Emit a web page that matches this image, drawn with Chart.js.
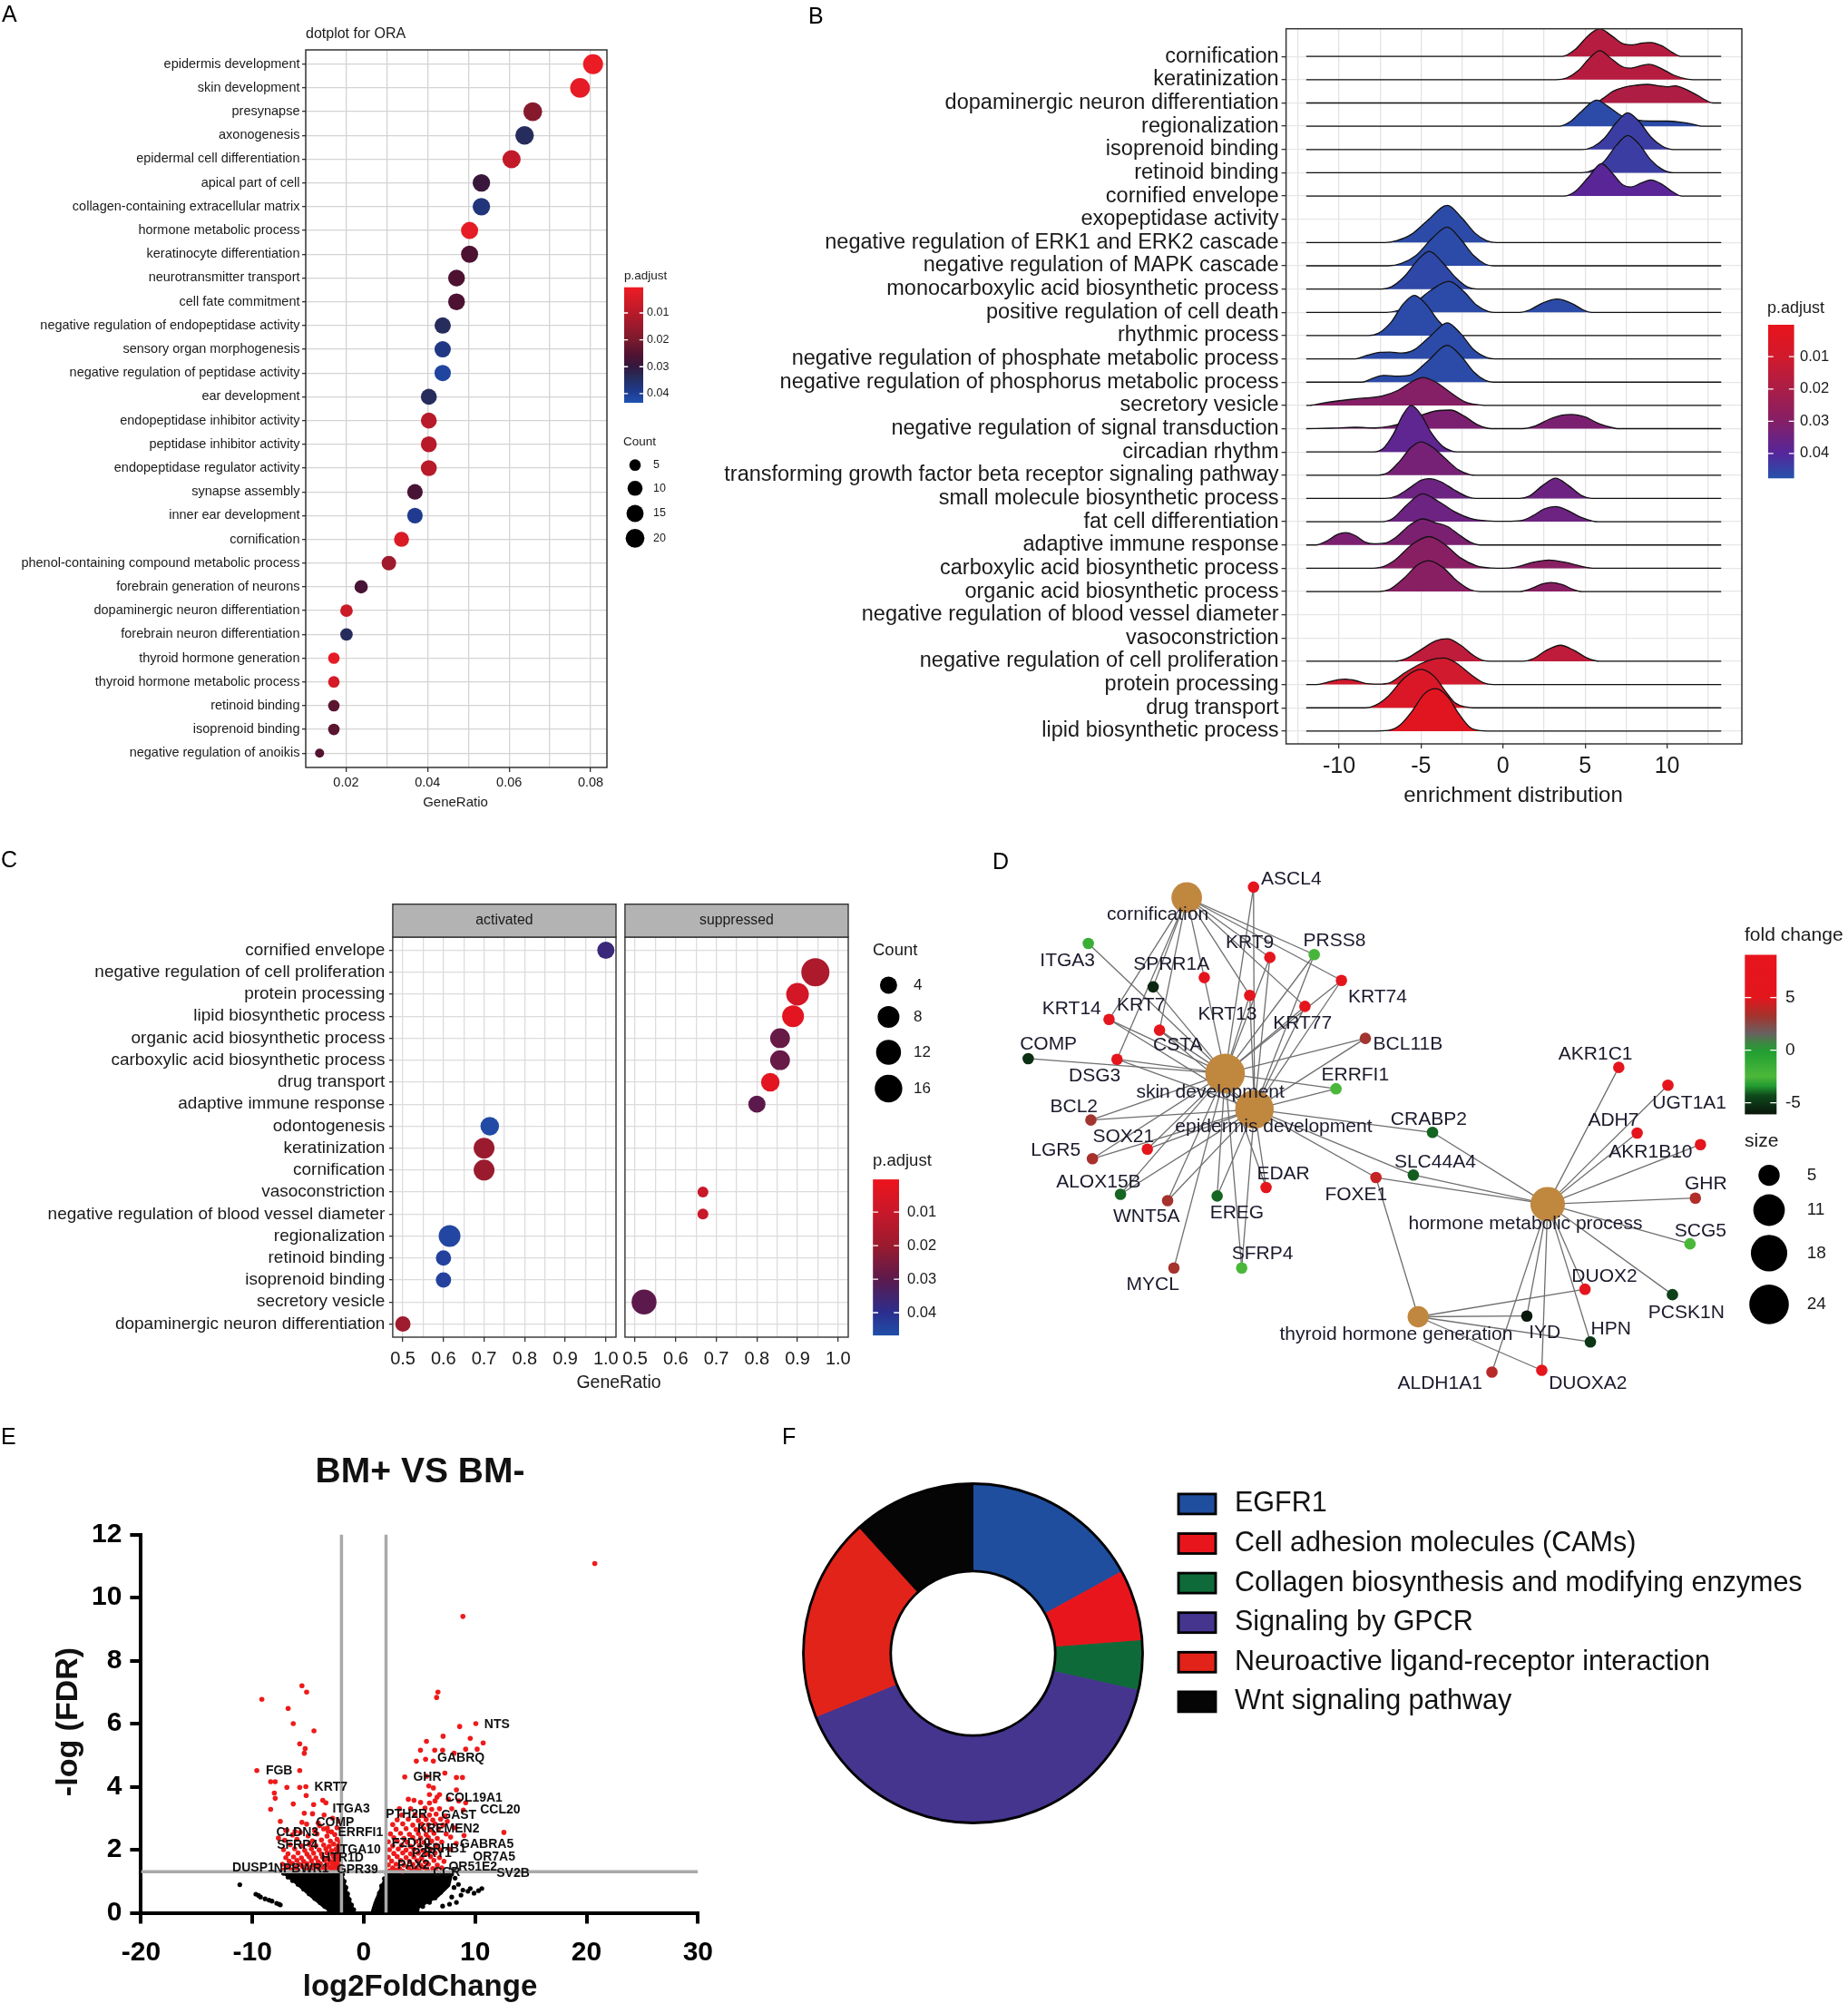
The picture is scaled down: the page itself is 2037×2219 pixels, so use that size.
<!DOCTYPE html>
<html>
<head>
<meta charset="utf-8">
<title>Enrichment figure</title>
<script src="https://cdn.jsdelivr.net/npm/chart.js@4.4.1/dist/chart.umd.min.js"></script>
<style>
  html, body { margin: 0; padding: 0; background: #fff; }
  #fig { position: relative; width: 2037px; height: 2219px; overflow: hidden; background: #fff; }
  #fig canvas { position: absolute; }
  .tag { position: absolute; font: 25px/25px 'Liberation Sans', Arial, sans-serif; color: #000; }
</style>
</head>
<body>
<div id="fig">
  <canvas id="cA" width="780" height="900" style="left:0;top:0"></canvas>
  <canvas id="cB" width="1247" height="905" style="left:790px;top:0"></canvas>
  <canvas id="cC1" width="1075" height="615" style="left:0;top:934px"></canvas>
  <canvas id="cC2" width="1075" height="615" style="left:0;top:934px"></canvas>
  <canvas id="cD" width="948" height="636" style="left:1089px;top:934px"></canvas>
  <canvas id="cE" width="800" height="649" style="left:0;top:1570px"></canvas>
  <canvas id="cF" width="1174" height="649" style="left:863px;top:1570px"></canvas>
  <div class="tag" style="left:2px;top:3px">A</div>
  <div class="tag" style="left:891px;top:5px">B</div>
  <div class="tag" style="left:1px;top:935px">C</div>
  <div class="tag" style="left:1094px;top:937px">D</div>
  <div class="tag" style="left:1px;top:1571px">E</div>
  <div class="tag" style="left:862px;top:1571px">F</div>
</div>
<script>
// ---------- A: ORA dot plot ----------
const oraTerms = ['epidermis development', 'skin development', 'presynapse', 'axonogenesis',
  'epidermal cell differentiation', 'apical part of cell', 'collagen-containing extracellular matrix',
  'hormone metabolic process', 'keratinocyte differentiation', 'neurotransmitter transport',
  'cell fate commitment', 'negative regulation of endopeptidase activity', 'sensory organ morphogenesis',
  'negative regulation of peptidase activity', 'ear development', 'endopeptidase inhibitor activity',
  'peptidase inhibitor activity', 'endopeptidase regulator activity', 'synapse assembly',
  'inner ear development', 'cornification', 'phenol-containing compound metabolic process',
  'forebrain generation of neurons', 'dopaminergic neuron differentiation', 'forebrain neuron differentiation',
  'thyroid hormone generation', 'thyroid hormone metabolic process', 'retinoid binding',
  'isoprenoid binding', 'negative regulation of anoikis'];
const oraRatio = [0.0806, 0.0774, 0.0658, 0.0638, 0.0606, 0.0532, 0.0532, 0.0503, 0.0503, 0.0471,
  0.0471, 0.0437, 0.0437, 0.0437, 0.0403, 0.0403, 0.0403, 0.0403, 0.0369, 0.0369,
  0.0336, 0.0305, 0.0237, 0.0201, 0.0201, 0.0170, 0.0170, 0.0170, 0.0170, 0.0135];
const oraCount = [24, 23, 20, 19, 18, 16, 16, 15, 15, 14, 14, 13, 13, 13, 12, 12, 12, 12, 11, 11,
  10, 9, 7, 6, 6, 5, 5, 5, 5, 4];
const oraPadj = [0.001, 0.002, 0.018, 0.034, 0.008, 0.029, 0.037, 0.002, 0.026, 0.026,
  0.026, 0.034, 0.038, 0.041, 0.034, 0.010, 0.010, 0.010, 0.027, 0.039,
  0.004, 0.014, 0.027, 0.007, 0.034, 0.002, 0.005, 0.024, 0.024, 0.025];
const ratioTicksA = [0.02, 0.03, 0.04, 0.05, 0.06, 0.07, 0.08];
const countBreaksA = [5, 10, 15, 20];
const padjTicks = [[0.01, '0.01'], [0.02, '0.02'], [0.03, '0.03'], [0.04, '0.04']];

// ---------- B: ridgeline (enrichment distribution) ----------
const ridgeTerms = ['cornification', 'keratinization', 'dopaminergic neuron differentiation', 'regionalization',
  'isoprenoid binding', 'retinoid binding', 'cornified envelope', 'exopeptidase activity',
  'negative regulation of ERK1 and ERK2 cascade', 'negative regulation of MAPK cascade',
  'monocarboxylic acid biosynthetic process', 'positive regulation of cell death', 'rhythmic process',
  'negative regulation of phosphate metabolic process', 'negative regulation of phosphorus metabolic process',
  'secretory vesicle', 'negative regulation of signal transduction', 'circadian rhythm',
  'transforming growth factor beta receptor signaling pathway', 'small molecule biosynthetic process',
  'fat cell differentiation', 'adaptive immune response', 'carboxylic acid biosynthetic process',
  'organic acid biosynthetic process', 'negative regulation of blood vessel diameter', 'vasoconstriction',
  'negative regulation of cell proliferation', 'protein processing', 'drug transport', 'lipid biosynthetic process'];
const ridgePadj = [0.017, 0.017, 0.019, 0.0465, 0.044, 0.044, 0.039, null, 0.0465, 0.0465,
  0.046, 0.0465, 0.0465, 0.0465, 0.0465, 0.030, 0.032, 0.038, 0.033, 0.035,
  0.035, 0.032, 0.029, 0.029, null, null, 0.015, 0.010, 0.006, 0.003];
// [enrichment, density height in row units]
const ridgeShapes = [
  [[-12,0],[3.6,0],[4.4,0.3],[5.2,0.9],[5.9,1.19],[6.6,0.9],[7.3,0.55],[7.9,0.5],[8.5,0.58],[9.0,0.6],[9.7,0.45],[10.3,0.18],[10.9,0],[13.3,0]],
  [[-12,0],[3.2,0],[3.9,0.08],[4.6,0.4],[5.3,0.95],[5.9,1.25],[6.6,0.9],[7.3,0.55],[7.8,0.5],[8.4,0.6],[8.9,0.66],[9.6,0.5],[10.4,0.2],[11.2,0.03],[11.6,0],[13.3,0]],
  [[-12,0],[5.6,0],[6.1,0.2],[6.7,0.5],[7.4,0.68],[8.1,0.76],[8.8,0.8],[9.5,0.74],[10.0,0.7],[10.5,0.74],[11.1,0.6],[11.8,0.35],[12.4,0.1],[12.8,0],[13.3,0]],
  [[-12,0],[3.4,0],[4.1,0.2],[4.8,0.65],[5.7,1.12],[6.5,0.8],[7.3,0.42],[8.1,0.27],[9.0,0.22],[10.0,0.22],[10.8,0.18],[11.5,0.1],[12.1,0],[13.3,0]],
  [[-12,0],[4.8,0],[5.5,0.12],[6.2,0.5],[6.9,1.15],[7.6,1.58],[8.3,1.2],[9.0,0.55],[9.7,0.15],[10.4,0],[13.3,0]],
  [[-12,0],[4.8,0],[5.5,0.12],[6.2,0.52],[6.9,1.17],[7.6,1.6],[8.3,1.22],[9.0,0.56],[9.7,0.15],[10.4,0],[13.3,0]],
  [[-12,0],[3.7,0],[4.4,0.2],[5.2,0.8],[6.0,1.39],[6.7,0.95],[7.3,0.48],[7.8,0.39],[8.4,0.55],[9.0,0.69],[9.7,0.5],[10.3,0.2],[10.9,0],[13.3,0]],
  [],
  [[-12,0],[-7.2,0],[-6.5,0.08],[-5.6,0.35],[-4.6,0.95],[-3.4,1.6],[-2.5,1.05],[-1.7,0.4],[-1.0,0.08],[-0.4,0],[13.3,0]],
  [[-12,0],[-7.0,0],[-6.2,0.1],[-5.3,0.45],[-4.3,1.2],[-3.4,1.66],[-2.6,1.15],[-1.8,0.45],[-1.1,0.08],[-0.6,0],[13.3,0]],
  [[-12,0],[-7.4,0],[-6.8,0.1],[-6.0,0.55],[-5.2,1.25],[-4.5,1.62],[-3.7,1.15],[-2.9,0.5],[-2.2,0.1],[-1.6,0],[13.3,0]],
  [[-12,0],[-7.1,0],[-6.4,0.08],[-5.5,0.35],[-4.4,0.95],[-3.3,1.33],[-2.4,0.9],[-1.6,0.3],[-0.9,0.04],[-0.5,0],[1.0,0],[1.6,0.1],[2.4,0.4],[3.3,0.57],[4.2,0.38],[4.9,0.1],[5.4,0],[13.3,0]],
  [[-12,0],[-8.2,0],[-7.6,0.1],[-6.8,0.6],[-6.1,1.35],[-5.4,1.73],[-4.7,1.35],[-3.9,0.6],[-3.1,0.12],[-2.5,0],[13.3,0]],
  [[-12,0],[-9.0,0],[-8.3,0.15],[-7.5,0.28],[-6.9,0.29],[-6.2,0.25],[-5.4,0.4],[-4.4,1.0],[-3.4,1.55],[-2.6,1.1],[-1.8,0.4],[-1.0,0.06],[-0.5,0],[13.3,0]],
  [[-12,0],[-8.6,0],[-8.0,0.15],[-7.3,0.29],[-6.6,0.26],[-5.7,0.3],[-4.6,0.9],[-3.4,1.58],[-2.6,1.15],[-1.8,0.45],[-1.1,0.08],[-0.6,0],[13.3,0]],
  [[-12,0],[-11.8,0],[-11.0,0.1],[-10.0,0.2],[-8.7,0.3],[-7.4,0.4],[-6.4,0.65],[-5.6,1.0],[-4.9,1.2],[-4.1,1.0],[-3.2,0.55],[-2.3,0.15],[-1.4,0.02],[-0.9,0],[13.3,0]],
  [[-12,0],[-10.5,0.02],[-9.0,0.06],[-7.8,0.03],[-6.9,0.1],[-5.9,0.3],[-4.9,0.6],[-3.9,0.78],[-3.2,0.8],[-2.4,0.55],[-1.5,0.15],[-0.7,0],[1.2,0],[1.9,0.1],[2.8,0.4],[3.6,0.58],[4.2,0.61],[5.0,0.5],[5.9,0.2],[6.8,0.02],[7.1,0],[13.3,0]],
  [[-12,0],[-7.9,0],[-7.3,0.15],[-6.7,0.75],[-6.1,1.6],[-5.6,2.0],[-5.0,1.6],[-4.4,0.85],[-3.7,0.25],[-3.1,0.03],[-2.8,0],[13.3,0]],
  [[-12,0],[-7.6,0],[-7.0,0.12],[-6.3,0.6],[-5.6,1.2],[-5.0,1.43],[-4.3,1.2],[-3.5,0.7],[-2.7,0.22],[-2.0,0.02],[-1.7,0],[13.3,0]],
  [[-12,0],[-7.2,0],[-6.5,0.1],[-5.7,0.45],[-5.0,0.78],[-4.5,0.85],[-3.8,0.72],[-3.0,0.38],[-2.2,0.08],[-1.7,0],[1.0,0],[1.6,0.1],[2.4,0.55],[3.2,0.87],[4.0,0.55],[4.8,0.12],[5.4,0],[13.3,0]],
  [[-12,0],[-7.4,0],[-6.7,0.15],[-5.9,0.7],[-4.9,1.2],[-4.0,0.9],[-3.0,0.45],[-2.0,0.15],[-1.0,0.04],[0.2,0.02],[1.1,0.05],[1.8,0.25],[2.5,0.55],[3.2,0.65],[3.9,0.5],[4.7,0.2],[5.5,0.02],[5.8,0],[13.3,0]],
  [[-12,0],[-11.4,0],[-10.8,0.15],[-10.1,0.45],[-9.6,0.53],[-9.0,0.4],[-8.4,0.12],[-7.9,0.05],[-7.2,0.08],[-6.5,0.35],[-5.7,0.85],[-4.9,1.12],[-4.1,0.95],[-3.4,0.8],[-2.7,0.45],[-2.0,0.12],[-1.4,0],[13.3,0]],
  [[-12,0],[-8.2,0],[-7.4,0.05],[-6.6,0.35],[-5.5,1.05],[-4.5,1.36],[-3.6,1.05],[-2.6,0.45],[-1.6,0.1],[-0.7,0.01],[0.0,0],[0.8,0.05],[1.8,0.25],[2.8,0.35],[3.8,0.25],[4.8,0.08],[5.6,0],[13.3,0]],
  [[-12,0],[-7.6,0],[-6.9,0.1],[-6.0,0.6],[-5.2,1.15],[-4.5,1.32],[-3.7,1.05],[-2.8,0.45],[-2.0,0.08],[-1.4,0],[1.0,0],[1.7,0.12],[2.4,0.33],[2.9,0.39],[3.6,0.3],[4.3,0.08],[4.8,0],[13.3,0]],
  [],
  [],
  [[-12,0],[-6.6,0],[-5.9,0.12],[-5.0,0.5],[-4.1,0.88],[-3.4,0.97],[-2.6,0.7],[-1.8,0.25],[-1.2,0.03],[-0.8,0],[1.2,0],[1.8,0.1],[2.6,0.45],[3.5,0.69],[4.3,0.48],[5.1,0.15],[5.9,0],[13.3,0]],
  [[-12,0],[-11.4,0],[-10.8,0.08],[-10.1,0.2],[-9.6,0.23],[-9.0,0.17],[-8.4,0.05],[-7.6,0.02],[-6.9,0.08],[-6.0,0.5],[-5.0,0.9],[-4.2,1.1],[-3.6,1.14],[-2.9,0.95],[-2.0,0.45],[-1.2,0.08],[-0.6,0],[13.3,0]],
  [[-12,0],[-8.4,0],[-7.8,0.1],[-7.0,0.5],[-6.0,1.3],[-5.0,1.65],[-4.2,1.35],[-3.5,0.7],[-2.9,0.2],[-2.3,0.04],[-1.8,0],[13.3,0]],
  [[-12,0],[-8.0,0],[-7.0,0.03],[-6.3,0.25],[-5.5,0.9],[-4.8,1.6],[-4.1,1.82],[-3.4,1.5],[-2.7,0.75],[-2.0,0.15],[-1.4,0.02],[-0.4,0],[13.3,0]]
];
const enrichTicks = [-12.5, -10, -7.5, -5, -2.5, 0, 2.5, 5, 7.5, 10, 12.5];

// ---------- C: activated / suppressed dot plot ----------
const gseaTerms = ['cornified envelope', 'negative regulation of cell proliferation', 'protein processing',
  'lipid biosynthetic process', 'organic acid biosynthetic process', 'carboxylic acid biosynthetic process',
  'drug transport', 'adaptive immune response', 'odontogenesis', 'keratinization', 'cornification',
  'vasoconstriction', 'negative regulation of blood vessel diameter', 'regionalization', 'retinoid binding',
  'isoprenoid binding', 'secretory vesicle', 'dopaminergic neuron differentiation'];
const actRows = [0, 8, 9, 10, 13, 14, 15, 17];
const actRatio = [1.0, 0.714, 0.7, 0.7, 0.615, 0.6, 0.6, 0.5];
const actCount = [4, 5, 7, 7, 8, 3, 3, 3];
const actPadj = [0.037, 0.046, 0.020, 0.020, 0.045, 0.044, 0.044, 0.019];
const supRows = [1, 2, 3, 4, 5, 6, 7, 11, 12, 16];
const supRatio = [0.944, 0.9, 0.889, 0.857, 0.857, 0.833, 0.8, 0.667, 0.667, 0.522];
const supCount = [17, 9, 8, 6, 6, 5, 4, 2, 2, 12];
const supPadj = [0.016, 0.007, 0.003, 0.028, 0.028, 0.003, 0.030, 0.010, 0.010, 0.030];
const ratioTicksC = [0.5, 0.55, 0.6, 0.65, 0.7, 0.75, 0.8, 0.85, 0.9, 0.95, 1.0];
const countBreaksC = [4, 8, 12, 16];

// ---------- D: gene-concept network ----------
const termNodes = ['cornification', 'skin development', 'epidermis development',
  'hormone metabolic process', 'thyroid hormone generation'];
const termPos = [[25.0, 5.76], [30.36, 38.95], [34.46, 45.71], [75.41, 63.61], [57.33, 84.85]];
const termLabelPos = [[20.94, 9.0], [28.3, 42.51], [37.14, 49.0], [72.31, 67.29], [54.25, 88.25]];
const termGenes = [
  ['KRT7', 'SPRR1A', 'KRT14', 'DSG3', 'CSTA', 'KRT9', 'KRT13', 'KRT74', 'KRT77', 'PRSS8'],
  ['ASCL4', 'ITGA3', 'KRT7', 'SPRR1A', 'KRT9', 'KRT13', 'KRT74', 'KRT77', 'PRSS8', 'KRT14', 'CSTA', 'DSG3',
   'COMP', 'BCL11B', 'ERRFI1', 'BCL2', 'SOX21', 'LGR5', 'ALOX15B', 'WNT5A', 'EREG', 'EDAR', 'SFRP4', 'MYCL'],
  ['ASCL4', 'KRT9', 'KRT13', 'KRT74', 'KRT77', 'PRSS8', 'KRT14', 'CSTA', 'DSG3', 'BCL11B', 'ERRFI1', 'BCL2',
   'SOX21', 'LGR5', 'ALOX15B', 'WNT5A', 'EREG', 'EDAR', 'SFRP4', 'FOXE1', 'CRABP2', 'SLC44A4'],
  ['CRABP2', 'SLC44A4', 'FOXE1', 'AKR1C1', 'UGT1A1', 'ADH7', 'AKR1B10', 'GHR', 'SCG5', 'PCSK1N', 'DUOX2',
   'HPN', 'IYD', 'DUOXA2', 'ALDH1A1'],
  ['FOXE1', 'DUOX2', 'IYD', 'HPN', 'DUOXA2']
];
const geneNames = ['ASCL4', 'ITGA3', 'KRT7', 'SPRR1A', 'KRT9', 'PRSS8', 'KRT74', 'KRT14', 'KRT13', 'KRT77',
  'CSTA', 'COMP', 'DSG3', 'BCL11B', 'ERRFI1', 'BCL2', 'CRABP2', 'SOX21', 'LGR5', 'SLC44A4',
  'ALOX15B', 'FOXE1', 'EDAR', 'WNT5A', 'EREG', 'SFRP4', 'MYCL', 'AKR1C1', 'UGT1A1', 'ADH7',
  'AKR1B10', 'GHR', 'SCG5', 'DUOX2', 'PCSK1N', 'IYD', 'HPN', 'DUOXA2', 'ALDH1A1'];
const genePos = [[34.33, 3.78], [11.25, 14.41], [20.31, 22.61], [27.45, 20.85], [36.61, 17.05], [42.81, 16.51],
  [46.61, 21.39], [14.15, 28.76], [33.8, 24.2], [41.51, 26.29], [21.2, 30.78], [2.86, 36.14], [15.26, 36.27],
  [49.95, 32.32], [45.85, 41.83], [11.61, 47.73], [59.33, 50.07], [19.5, 53.22], [11.83, 55.03], [56.65, 58.1],
  [15.75, 61.73], [51.43, 58.58], [36.08, 60.46], [22.33, 62.93], [29.25, 62.07], [32.68, 75.66], [23.21, 75.66],
  [85.34, 37.8], [92.21, 41.15], [87.91, 50.2], [96.75, 52.36], [96.04, 62.46], [95.29, 71.1], [80.63, 79.66],
  [92.84, 80.68], [72.5, 84.71], [81.38, 89.59], [74.59, 94.95], [67.63, 95.29]];
const geneFold = [7, -1.5, -5.5, 7, 7, -2.2, 7, 7, 7, 7, 7, -5.2, 7, 3.2, -2.4, 3.2, -4.0, 6, 3.4, -4.1,
  -4.0, 4.2, 6.5, 3.3, -4.0, -2.4, 3.3, 7, 7, 7, 7, 3.6, -2.4, 6.5, -4.6, -6, -5, 7, 3.8];
const geneLabelPos = [[39.6, 2.3], [8.35, 17.71], [18.61, 26.08], [22.86, 18.39], [33.8, 14.36], [45.63, 13.9],
  [51.65, 24.61], [8.93, 26.76], [30.68, 27.76], [41.16, 29.44], [23.75, 33.66], [5.68, 33.46], [12.14, 39.49],
  [55.89, 33.46], [48.53, 39.29], [9.24, 45.32], [58.8, 47.66], [16.16, 50.88], [6.7, 53.56], [59.69, 55.69],
  [12.68, 59.39], [48.66, 61.93], [38.49, 57.92], [19.38, 65.95], [32.01, 65.27], [35.58, 72.98], [20.26, 78.88],
  [82.09, 35.34], [95.21, 44.51], [84.59, 47.86], [89.79, 53.9], [97.5, 59.78], [96.75, 68.63], [83.34, 77.2],
  [94.79, 84.03], [75.0, 87.85], [84.25, 87.19], [81.04, 97.42], [60.36, 97.44]];
const foldTicks = [[5, '5'], [0, '0'], [-5, '-5']];
const sizeBreaksD = [5, 11, 18, 24];

// ---------- E: volcano ----------
const redLeftPts = [[-5.55,7.2],[-5.13,7.0],[-9.15,6.77],[-6.79,6.48],[-6.33,6.0],[-4.47,5.77],[-5.75,5.36],[-5.26,5.21],
  [-5.34,5.06],[-9.6,4.51],[-5.75,4.51],[-8.36,4.16],[-7.95,4.16],[-6.9,3.98],[-5.2,4.0],[-5.75,3.98],[-8.03,3.8],
  [-7.95,3.63],[-5.17,3.72],[-3.68,3.57],[-3.4,3.49],[-6.33,3.45],[-4.5,3.43],[-8.36,3.28],[-5.34,3.16],[-4.6,3.14],
  [-3.56,3.1],[-7.49,2.9],[-5.55,2.87],[-5.13,2.81],[-3.97,2.76],[-7.0,2.61],[-6.17,2.58],[-3.27,2.69],[-3.19,2.58],
  [-7.66,2.37],[-6.9,2.62],[-4.4,2.6],[-3.6,2.66],[-2.9,2.57],[-2.4,2.7],[-5.7,2.55],[-2.2,2.9],[-2.8,3.0],[-4.1,2.85],
  [-6.4,2.47],[-5.0,2.44],[-4.2,2.5],[-3.3,2.43],[-2.6,2.48],
  [-7.1,2.3],[-6.0,2.33],[-4.6,2.28],[-3.8,2.31],[-3.0,2.27],[-2.4,2.33],[-2.15,2.25],
  [-6.6,2.16],[-5.6,2.12],[-4.9,2.17],[-4.3,2.13],[-3.6,2.15],[-3.1,2.11],[-2.7,2.18],[-2.3,2.12],
  [-7.2,2.0],[-6.2,2.03],[-5.3,1.98],[-4.7,2.02],[-4.0,1.99],[-3.4,2.03],[-2.9,1.97],[-2.5,2.01],[-2.1,1.99],
  [-6.8,1.87],[-5.9,1.9],[-5.1,1.86],[-4.5,1.89],[-3.8,1.86],[-3.3,1.9],[-2.8,1.85],[-2.4,1.88],[-2.1,1.84],
  [-7.0,1.75],[-6.3,1.77],[-5.6,1.74],[-4.9,1.77],[-4.3,1.74],[-3.7,1.76],[-3.2,1.73],[-2.7,1.77],[-2.3,1.74],
  [-6.7,1.64],[-6.0,1.66],[-5.4,1.63],[-4.7,1.65],[-4.1,1.62],[-3.5,1.66],[-3.0,1.63],[-2.6,1.65],[-2.2,1.62],
  [-7.3,1.54],[-6.4,1.56],[-5.8,1.53],[-5.1,1.55],[-4.5,1.52],[-3.9,1.55],[-3.3,1.53],[-2.8,1.56],[-2.4,1.52],[-2.1,1.55],
  [-6.9,1.45],[-6.1,1.43],[-5.5,1.46],[-4.8,1.44],[-4.2,1.46],[-3.6,1.43],[-3.1,1.45],[-2.7,1.43],[-2.3,1.46],
  [-7.2,1.35],[-6.5,1.36],[-5.9,1.34],[-5.2,1.36],[-4.6,1.34],[-4.0,1.36],[-3.4,1.34],[-2.9,1.36],[-2.5,1.34],[-2.1,1.36]];
const redRightPts = [[20.74,11.08],[8.9,9.4],[6.66,7.0],[6.54,6.83],[10.06,6.0],[8.61,5.91],[10.72,5.39],[9.56,5.53],
  [7.12,5.6],[5.63,5.44],[9.15,5.19],[10.18,5.19],[5.09,5.16],[6.37,5.16],[7.08,5.16],[8.11,5.06],[5.55,4.87],[6.25,4.81],
  [4.72,4.81],[7.28,4.43],[3.68,4.31],[8.32,4.29],[8.86,4.29],[5.63,4.33],[5.84,4.02],[6.25,3.96],[8.32,3.9],[6.58,3.67],
  [4.51,3.57],[8.53,3.55],[9.15,3.49],[8.94,3.26],[12.58,2.55],[5.9,3.75],[6.8,3.75],[7.6,3.6],[4.0,3.6],[3.2,3.3],
  [7.9,3.3],[7.5,2.9],[8.1,2.7],[7.8,2.4],[8.3,2.2],[9.0,2.45],
  [5.1,3.5],[5.9,3.48],[6.4,3.55],[4.2,3.3],[5.5,3.32],[6.1,3.28],[6.8,3.3],
  [3.4,3.1],[4.6,3.12],[5.3,3.08],[5.9,3.1],[6.5,3.13],[7.3,3.07],
  [3.0,2.95],[4.0,2.97],[4.9,2.93],[5.6,2.96],[6.2,2.94],[6.9,2.97],
  [2.6,2.8],[3.5,2.82],[4.4,2.78],[5.2,2.81],[5.8,2.79],[6.4,2.82],[7.1,2.78],
  [2.9,2.65],[3.8,2.67],[4.7,2.64],[5.4,2.66],[6.0,2.63],[6.7,2.66],
  [2.4,2.5],[3.3,2.52],[4.1,2.49],[4.9,2.51],[5.6,2.48],[6.3,2.52],[7.4,2.5],
  [2.7,2.38],[3.6,2.36],[4.4,2.39],[5.1,2.37],[5.8,2.39],[6.6,2.36],
  [2.2,2.25],[3.0,2.27],[3.9,2.24],[4.7,2.26],[5.4,2.23],[6.1,2.27],[7.0,2.24],
  [2.6,2.12],[3.4,2.14],[4.2,2.11],[5.0,2.13],[5.7,2.1],[6.5,2.14],
  [2.3,2.0],[3.1,2.02],[3.8,1.99],[4.5,2.01],[5.3,1.98],[6.0,2.02],[6.9,1.99],[7.8,2.01],
  [2.7,1.88],[3.5,1.9],[4.2,1.87],[4.9,1.89],[5.6,1.86],[6.4,1.9],
  [2.2,1.76],[3.0,1.78],[3.8,1.75],[4.5,1.77],[5.2,1.74],[6.0,1.78],[6.8,1.75],
  [2.5,1.64],[3.3,1.66],[4.1,1.63],[4.8,1.65],[5.5,1.62],[6.3,1.66],[7.2,1.63],
  [2.2,1.52],[2.9,1.54],[3.6,1.51],[4.4,1.53],[5.1,1.5],[5.8,1.54],[6.6,1.51],
  [2.6,1.42],[3.2,1.4],[4.0,1.43],[4.7,1.41],[5.4,1.44],[6.2,1.4],[7.0,1.42],
  [2.3,1.33],[2.9,1.35],[3.5,1.32],[4.3,1.34],[5.0,1.33],[5.7,1.35],[6.5,1.33]];
const blackPts = [[-11.13,0.89],[-9.69,0.59],[-9.45,0.55],[-9.27,0.5],[-8.86,0.44],[-8.5,0.4],[-8.24,0.37],[-7.82,0.3],
  [-7.6,0.27],[-7.49,0.25],[-7.2,1.25],[-6.8,1.13],[-6.4,1.02],[-5.9,0.9],[-5.4,0.75],[-4.9,0.6],[-4.4,0.45],[-3.9,0.32],
  [-3.5,0.2],[-3.1,0.08],[-1.9,1.22],[-1.75,1.0],[-1.6,0.8],[-1.45,0.6],[-1.3,0.42],[-1.1,0.25],[-0.9,0.1],
  [1.0,0.15],[1.2,0.4],[1.4,0.62],[1.6,0.85],[1.85,1.08],[2.05,1.25],[7.9,1.25],[7.6,1.05],[7.3,0.85],[6.9,0.65],
  [6.4,0.47],[5.9,0.33],[5.3,0.2],[4.8,0.1],[8.2,1.1],[8.5,0.9],[8.9,0.72],[9.35,0.68],[9.56,0.77],[10.6,0.77],
  [8.73,0.56],[8.32,0.33],[7.7,0.27],[7.08,0.21],[7.9,0.5],[8.1,0.8],[10.3,0.7],[9.9,0.62]];
// envelope of the dense non-significant cloud (shared x per side)
const leftCloudX = [-7.4, -6.2, -4.9, -3.7, -2.9, -2.0, -1.8, -1.5, -1.15, -0.75];
const leftCloudUpper = [1.3, 1.3, 1.3, 1.3, 1.3, 1.3, 1.1, 0.68, 0.33, 0];
const leftCloudLower = [1.3, 0.95, 0.55, 0.2, 0, 0, 0, 0, 0, 0];
const rightCloudX = [0.66, 0.95, 1.37, 1.78, 2.1, 4.4, 5.2, 6.66, 7.7, 8.0];
const rightCloudUpper = [0, 0.33, 0.68, 1.03, 1.3, 1.3, 1.3, 1.3, 1.3, 1.3];
const rightCloudLower = [0, 0, 0, 0, 0, 0, 0.21, 0.5, 0.85, 1.3];
const fcCut = 2, fdrCut = 1.3;
const volcanoLabels = [['FGB',-7.6,4.51],['KRT7',-2.94,3.99],['ITGA3',-1.12,3.28],['COMP',-2.57,2.87],
  ['CLDN3',-5.96,2.55],['ERRFI1',-0.29,2.53],['SFRP4',-5.96,2.14],['ITGA10',-0.46,1.99],['HTR1D',-1.9,1.73],
  ['DUSP1',-9.9,1.42],['NPBWR1',-5.6,1.4],['GPR39',-0.58,1.35],['NTS',11.96,5.98],['GABRQ',8.73,4.89],
  ['GHR',5.7,4.31],['COL19A1',9.89,3.63],['CCL20',12.25,3.26],['PTH2R',3.85,3.13],['GAST',8.53,3.08],
  ['KREMEN2',7.6,2.66],['GABRA5',11.05,2.18],['FZD10',4.25,2.2],['EPHB1',7.3,2.02],['P2RY1',6.1,1.87],
  ['OR7A5',11.7,1.76],['PAX2',4.47,1.5],['OR51E2',9.8,1.45],['SV2B',13.4,1.25],['CCR',7.44,1.28]];

// ---------- F: pathway doughnut ----------
const pathwayNames = ['EGFR1', 'Cell adhesion molecules (CAMs)', 'Collagen biosynthesis and modifying enzymes',
  'Signaling by GPCR', 'Neuroactive ligand-receptor interaction', 'Wnt signaling pathway'];
const pathwayShare = [17.0, 6.8, 4.7, 40.4, 19.4, 11.7];
const pathwayColors = ['#1f4e9e', '#e8161c', '#0e6b39', '#45358f', '#e2231a', '#050505'];

// ---------- colour scales ----------
const padjRampA = [[0.0005,'#ee1c24'],[0.01,'#b81a2a'],[0.02,'#7a1a2e'],[0.026,'#4d1232'],[0.03,'#33193f'],
  [0.034,'#262d5c'],[0.039,'#1f3a8e'],[0.0434,'#1f52b2']];
const padjRampB = [[0.0001,'#e8131b'],[0.01,'#d11a2d'],[0.02,'#aa1d47'],[0.03,'#851f66'],[0.04,'#55269c'],[0.0477,'#2452aa']];
const padjRampC = [[0.0002,'#ec141c'],[0.01,'#c8182a'],[0.02,'#9a1b2e'],[0.03,'#5c1a4c'],[0.04,'#2c2e8e'],[0.0468,'#1f4fa8']];
const foldRampD = [[-6.1,'#0a160b'],[-4.3,'#0e4a1c'],[-3.4,'#239a30'],[-2.5,'#4cb83a'],[-0.2,'#22a032'],
  [0.6,'#3a8a40'],[1.6,'#686060'],[3.3,'#a5322c'],[5,'#e3161d'],[9.06,'#e8141c']];

// ================= helpers =================
const FONT = "'Liberation Sans', Arial, Helvetica, sans-serif";
Chart.defaults.font.family = FONT;
Chart.defaults.color = '#1a1a1a';
Chart.defaults.animation = false;
Chart.defaults.plugins.legend.display = false;
Chart.defaults.plugins.tooltip.enabled = false;

function hexRgb(h) { const n = parseInt(h.slice(1), 16); return [(n >> 16) & 255, (n >> 8) & 255, n & 255]; }
function rampColor(ramp, v) {
  if (v <= ramp[0][0]) return ramp[0][1];
  for (let i = 1; i < ramp.length; i++) {
    if (v <= ramp[i][0]) {
      const t = (v - ramp[i - 1][0]) / (ramp[i][0] - ramp[i - 1][0]);
      const a = hexRgb(ramp[i - 1][1]), b = hexRgb(ramp[i][1]);
      return 'rgb(' + a.map((c, k) => Math.round(c + (b[k] - c) * t)).join(',') + ')';
    }
  }
  return ramp[ramp.length - 1][1];
}
function txt(ctx, s, x, y, o = {}) {
  ctx.save();
  ctx.font = (o.weight || 'normal') + ' ' + (o.size || 14) + 'px ' + FONT;
  ctx.fillStyle = o.color || '#1a1a1a';
  ctx.textAlign = o.align || 'left';
  ctx.textBaseline = 'middle';
  if (o.rot) { ctx.translate(x, y); ctx.rotate(o.rot); ctx.fillText(s, 0, 0); }
  else ctx.fillText(s, x, y);
  ctx.restore();
}
function dot(ctx, x, y, r, color) {
  ctx.save(); ctx.fillStyle = color; ctx.beginPath(); ctx.arc(x, y, r, 0, Math.PI * 2); ctx.fill(); ctx.restore();
}
function colorbar(ctx, o) {
  ctx.save();
  const g = ctx.createLinearGradient(0, o.y, 0, o.y + o.h);
  g.addColorStop(0, rampColor(o.ramp, o.vTop));
  g.addColorStop(1, rampColor(o.ramp, o.vBot));
  o.ramp.forEach(([v, c]) => { const t = (v - o.vTop) / (o.vBot - o.vTop); if (t > 0 && t < 1) g.addColorStop(t, c); });
  ctx.fillStyle = g;
  ctx.fillRect(o.x, o.y, o.w, o.h);
  ctx.strokeStyle = '#fff'; ctx.lineWidth = 1.3;
  o.ticks.forEach(([v, lab]) => {
    const ty = o.y + (v - o.vTop) / (o.vBot - o.vTop) * o.h;
    ctx.beginPath();
    ctx.moveTo(o.x, ty); ctx.lineTo(o.x + o.w / 5, ty);
    ctx.moveTo(o.x + o.w * 4 / 5, ty); ctx.lineTo(o.x + o.w, ty);
    ctx.stroke();
    txt(ctx, lab, o.labelX, ty, {size: o.size});
  });
  ctx.restore();
}
function frame(chart, color, width) {
  const {ctx, chartArea: a} = chart;
  ctx.save(); ctx.strokeStyle = color; ctx.lineWidth = width;
  ctx.strokeRect(a.left, a.top, a.right - a.left, a.bottom - a.top); ctx.restore();
}
const fixW = w => s => { s.width = w; };
const fixH = h => s => { s.height = h; };
const setTicks = vals => s => { s.ticks = vals.map(v => ({value: v})); };
const sizeA = c => 5 + 6 * Math.sqrt(Math.max(0, c - 4) / 20);
const sizeC = c => 6 + 9.5 * Math.sqrt(Math.max(0, c - 2) / 15);
const sizeD = s => 11.7 + 10.1 * Math.sqrt(Math.max(0, s - 5) / 19);
const rowIdx = n => Array.from({length: n}, (_, i) => i);

// ================= A =================
new Chart(document.getElementById('cA'), {
  type: 'scatter',
  data: {datasets: [{
    data: oraTerms.map((t, i) => ({x: oraRatio[i], y: i})),
    pointRadius: c => sizeA(oraCount[c.dataIndex]),
    pointBackgroundColor: c => rampColor(padjRampA, oraPadj[c.dataIndex]),
    pointBorderWidth: 0
  }]},
  options: {
    responsive: false,
    layout: {padding: {left: 0, top: 55, right: 111, bottom: 0}},
    scales: {
      x: {type: 'linear', min: 0.0101, max: 0.084, afterBuildTicks: setTicks(ratioTicksA), afterFit: fixH(54),
        ticks: {callback: v => Math.round(v * 100) % 2 === 0 ? v.toFixed(2) : '', autoSkip: false, maxRotation: 0,
          font: {size: 14.5}, color: '#1a1a1a', padding: 3},
        grid: {color: '#d4d4d4', lineWidth: 1.3, tickLength: 5,
          tickColor: c => (c.tick && Math.round(c.tick.value * 100) % 2 === 0) ? '#333' : 'rgba(0,0,0,0)'},
        border: {display: false}},
      y: {type: 'linear', reverse: true, min: -0.6, max: 29.6, afterBuildTicks: setTicks(rowIdx(oraTerms.length)),
        afterFit: fixW(337),
        ticks: {callback: v => oraTerms[v], autoSkip: false, font: {size: 14.5}, color: '#1a1a1a', padding: 2.5},
        grid: {color: '#d4d4d4', lineWidth: 1.3, tickLength: 4, tickColor: '#333'},
        border: {display: false}}
    }
  },
  plugins: [{id: 'decoA', afterDraw(chart) {
    const ctx = chart.ctx;
    frame(chart, '#262626', 1.4);
    txt(ctx, 'dotplot for ORA', 337, 38, {size: 16});
    txt(ctx, 'GeneRatio', 502, 885, {size: 15, align: 'center'});
    txt(ctx, 'p.adjust', 688, 304, {size: 13.5});
    colorbar(ctx, {x: 688, y: 316.7, w: 21, h: 127.3, ramp: padjRampA, vTop: 0.00046, vBot: 0.0434,
      ticks: padjTicks, labelX: 713, size: 12.5});
    txt(ctx, 'Count', 687, 487, {size: 13.5});
    const ys = [512.7, 538.3, 566, 593.3];
    countBreaksA.forEach((c, k) => { dot(ctx, 700, ys[k], sizeA(c), '#000'); txt(ctx, String(c), 720, ys[k], {size: 12.5}); });
  }}]
});

// ================= B =================
const nR = ridgeTerms.length;
new Chart(document.getElementById('cB'), {
  type: 'line',
  data: {datasets: ridgeTerms.map((t, i) => {
    const base = nR - 1 - i;
    return {
      data: ridgeShapes[i].map(([x, h]) => ({x, y: base + h})),
      fill: {value: base},
      backgroundColor: ridgePadj[i] == null ? 'rgba(0,0,0,0)' : rampColor(padjRampB, ridgePadj[i]),
      borderColor: '#111', borderWidth: 1.3, pointRadius: 0,
      cubicInterpolationMode: 'monotone', order: base
    };
  })},
  options: {
    responsive: false,
    layout: {padding: {left: 0, top: 31.7, right: 117, bottom: 0}},
    scales: {
      x: {type: 'linear', min: -13.23, max: 14.56, afterBuildTicks: setTicks(enrichTicks), afterFit: fixH(85),
        ticks: {callback: v => v % 5 === 0 ? String(v) : '', autoSkip: false, maxRotation: 0,
          font: {size: 25}, color: '#1a1a1a', padding: 5},
        grid: {color: '#e3e3e3', lineWidth: 1.3, tickLength: 5,
          tickColor: c => (c.tick && c.tick.value % 5 === 0) ? '#333' : 'rgba(0,0,0,0)'},
        border: {display: false}},
      y: {type: 'linear', min: -0.55, max: 30.19, afterBuildTicks: setTicks(rowIdx(nR)), afterFit: fixW(627.6),
        ticks: {callback: v => ridgeTerms[nR - 1 - v], autoSkip: false, font: {size: 23.5}, color: '#1a1a1a', padding: 3},
        grid: {color: '#e6e6e6', lineWidth: 1.3, tickLength: 5, tickColor: '#333'},
        border: {display: false}}
    }
  },
  plugins: [{id: 'decoB', afterDraw(chart) {
    const ctx = chart.ctx;
    frame(chart, '#333', 1.5);
    txt(ctx, 'enrichment distribution', 878, 877, {size: 24, align: 'center'});
    txt(ctx, 'p.adjust', 1158, 340, {size: 18});
    colorbar(ctx, {x: 1159, y: 358, w: 28.6, h: 169.3, ramp: padjRampB, vTop: 0.0001, vBot: 0.0477,
      ticks: padjTicks, labelX: 1194, size: 16.5});
  }}]
});

// ================= C =================
function facetChart(id, rows, ratio, count, padj, label, withLabels, extra) {
  return new Chart(document.getElementById(id), {
    type: 'scatter',
    data: {datasets: [{
      data: rows.map((r, i) => ({x: ratio[i], y: r})),
      pointRadius: c => sizeC(count[c.dataIndex]),
      pointBackgroundColor: c => rampColor(padjRampC, padj[c.dataIndex]),
      pointBorderWidth: 0
    }]},
    options: {
      responsive: false,
      layout: {padding: {left: 0, top: 99, right: withLabels ? 396 : 140, bottom: 0}},
      scales: {
        x: {type: 'linear', min: 0.475, max: 1.025, afterBuildTicks: setTicks(ratioTicksC), afterFit: fixH(75),
          ticks: {callback: v => Math.round(v * 100) % 10 === 0 ? v.toFixed(1) : '', autoSkip: false, maxRotation: 0,
            minRotation: 0, font: {size: 20}, color: '#1a1a1a', padding: 7},
          grid: {color: '#dcdcdc', lineWidth: 1.3, tickLength: 5,
            tickColor: c => (c.tick && Math.round(c.tick.value * 100) % 10 === 0) ? '#333' : 'rgba(0,0,0,0)'},
          border: {display: false}},
        y: {type: 'linear', reverse: true, min: -0.6, max: 17.6, afterBuildTicks: setTicks(rowIdx(gseaTerms.length)),
          afterFit: fixW(withLabels ? 432.9 : 688.9),
          ticks: {display: withLabels, callback: v => gseaTerms[v], autoSkip: false, font: {size: 19},
            color: '#1a1a1a', padding: 4.5},
          grid: {color: '#dcdcdc', lineWidth: 1.3, drawTicks: withLabels, tickLength: 4, tickColor: '#333'},
          border: {display: false}}
      }
    },
    plugins: [{id: 'decoC' + id, afterDraw(chart) {
      const ctx = chart.ctx, a = chart.chartArea;
      frame(chart, '#333', 1.4);
      ctx.save();
      ctx.fillStyle = '#b3b3b3'; ctx.fillRect(a.left, 62.7, a.right - a.left, 36.3);
      ctx.strokeStyle = '#333'; ctx.lineWidth = 1.4; ctx.strokeRect(a.left, 62.7, a.right - a.left, 36.3);
      ctx.restore();
      txt(ctx, label, (a.left + a.right) / 2, 81, {size: 15.8, align: 'center'});
      if (extra) extra(ctx);
    }}]
  });
}
facetChart('cC1', actRows, actRatio, actCount, actPadj, 'activated', true, null);
facetChart('cC2', supRows, supRatio, supCount, supPadj, 'suppressed', false, ctx => {
  txt(ctx, 'GeneRatio', 682, 591, {size: 19.5, align: 'center'});
  txt(ctx, 'Count', 962, 114, {size: 18.5});
  const ys = [152, 187, 226, 266];
  countBreaksC.forEach((c, k) => { dot(ctx, 979.4, ys[k], sizeC(c), '#000'); txt(ctx, String(c), 1007, ys[k], {size: 17}); });
  txt(ctx, 'p.adjust', 962, 346.4, {size: 18.5});
  colorbar(ctx, {x: 962.2, y: 366.1, w: 28.8, h: 172, ramp: padjRampC, vTop: 0.00024, vBot: 0.0468,
    ticks: padjTicks, labelX: 1000, size: 16.5});
});

// ================= D =================
const gIdx = Object.fromEntries(geneNames.map((g, i) => [g, i]));
const edgeSets = [];
termGenes.forEach((list, t) => list.forEach(g => {
  const p = genePos[gIdx[g]];
  edgeSets.push({type: 'line', data: [{x: termPos[t][0], y: termPos[t][1]}, {x: p[0], y: p[1]}],
    borderColor: '#6f6f6f', borderWidth: 1.3, pointRadius: 0, fill: false, order: 3});
}));
new Chart(document.getElementById('cD'), {
  type: 'scatter',
  data: {datasets: edgeSets.concat([
    {data: genePos.map(([x, y]) => ({x, y})), pointRadius: 6.3,
      pointBackgroundColor: c => rampColor(foldRampD, geneFold[c.dataIndex]), pointBorderWidth: 0, order: 2},
    {data: termPos.map(([x, y]) => ({x, y})), pointRadius: c => sizeD(termGenes[c.dataIndex].length),
      pointBackgroundColor: '#c0873f', pointBorderWidth: 0, order: 1}
  ])},
  options: {
    responsive: false,
    layout: {padding: {left: 11, top: 16, right: 137, bottom: 30}},
    scales: {
      x: {type: 'linear', min: 0, max: 100, display: false},
      y: {type: 'linear', min: 0, max: 100, reverse: true, display: false}
    }
  },
  plugins: [{id: 'decoD', afterDatasetsDraw(chart) {
    const {ctx, scales: {x, y}} = chart;
    geneNames.forEach((g, i) => txt(ctx, g, x.getPixelForValue(geneLabelPos[i][0]), y.getPixelForValue(geneLabelPos[i][1]),
      {size: 21, align: 'center', color: '#1a1a2c'}));
    termNodes.forEach((t, i) => txt(ctx, t, x.getPixelForValue(termLabelPos[i][0]), y.getPixelForValue(termLabelPos[i][1]),
      {size: 21, align: 'center', color: '#1a1a2c'}));
  }, afterDraw(chart) {
    const ctx = chart.ctx;
    txt(ctx, 'fold change', 834, 97, {size: 21});
    colorbar(ctx, {x: 834.3, y: 118.5, w: 35, h: 175.9, ramp: foldRampD, vTop: 9.06, vBot: -6.1,
      ticks: foldTicks, labelX: 879, size: 19});
    txt(ctx, 'size', 834, 324, {size: 21});
    const ys = [361.6, 400, 447.4, 503.9];
    sizeBreaksD.forEach((s, k) => { dot(ctx, 861, ys[k], sizeD(s), '#000'); txt(ctx, String(s), 902.7, ys[k], {size: 19}); });
  }}]
});

// ================= E =================
const xy = pts => pts.map(([x, y]) => ({x, y}));
const zipXY = (xs, ys) => xs.map((x, i) => ({x, y: ys[i]}));
const cutLine = (pts) => ({type: 'line', data: xy(pts), borderColor: '#a9a9a9', borderWidth: 3.5, pointRadius: 0, fill: false, order: 1});
const cloudEdge = (data, fill) => ({type: 'line', data, fill, backgroundColor: '#000', borderColor: '#000',
  borderWidth: 1.5, pointRadius: 0, tension: 0, order: 5});
new Chart(document.getElementById('cE'), {
  type: 'scatter',
  data: {datasets: [
    cloudEdge(zipXY(leftCloudX, leftCloudUpper), '+1'),
    cloudEdge(zipXY(leftCloudX, leftCloudLower), false),
    cloudEdge(zipXY(rightCloudX, rightCloudUpper), '+1'),
    cloudEdge(zipXY(rightCloudX, rightCloudLower), false),
    {data: xy(blackPts), pointRadius: 2.6, pointBackgroundColor: '#000', pointBorderWidth: 0, order: 4},
    {data: xy(redLeftPts.concat(redRightPts)), pointRadius: 2.8, pointBackgroundColor: '#ee1b1b', pointBorderWidth: 0, order: 3},
    cutLine([[-fcCut, 0], [-fcCut, 12]]),
    cutLine([[fcCut, 0], [fcCut, 12]]),
    cutLine([[-20, fdrCut], [30, fdrCut]])
  ]},
  options: {
    responsive: false,
    layout: {padding: {left: 0, top: 121.5, right: 29.5, bottom: 0}},
    scales: {
      x: {type: 'linear', min: -20, max: 30, afterFit: fixH(110.5),
        ticks: {stepSize: 10, font: {size: 30, weight: 'bold'}, color: '#000', padding: 14, maxRotation: 0},
        grid: {drawOnChartArea: false, tickLength: 12, tickWidth: 4, tickColor: '#000', color: '#000', lineWidth: 4},
        border: {display: true, color: '#000', width: 4}},
      y: {type: 'linear', min: 0, max: 12, afterFit: fixW(155.4),
        ticks: {stepSize: 2, font: {size: 30, weight: 'bold'}, color: '#000', padding: 9},
        grid: {drawOnChartArea: false, tickLength: 12, tickWidth: 4, tickColor: '#000', color: '#000', lineWidth: 4},
        border: {display: true, color: '#000', width: 4}}
    }
  },
  plugins: [{id: 'decoE', afterDatasetsDraw(chart) {
    const {ctx, scales: {x, y}} = chart;
    volcanoLabels.forEach(([g, gx, gy]) => txt(ctx, g, x.getPixelForValue(gx), y.getPixelForValue(gy),
      {size: 14, weight: 'bold', align: 'center', color: '#111'}));
  }, afterDraw(chart) {
    const ctx = chart.ctx;
    txt(ctx, 'BM+ VS BM-', 463, 53, {size: 39, weight: 'bold', align: 'center', color: '#111'});
    txt(ctx, 'log2FoldChange', 463, 621, {size: 33, weight: 'bold', align: 'center', color: '#111'});
    txt(ctx, '-log (FDR)', 76, 328, {size: 34, weight: 'bold', align: 'center', color: '#111', rot: -Math.PI / 2});
  }}]
});

// ================= F =================
new Chart(document.getElementById('cF'), {
  type: 'doughnut',
  data: {labels: pathwayNames, datasets: [{data: pathwayShare, backgroundColor: pathwayColors,
    borderColor: pathwayColors, borderWidth: 1}]},
  options: {
    responsive: false,
    cutout: '48.5%',
    layout: {padding: {left: 22, top: 65, right: 777, bottom: 209}}
  },
  plugins: [{id: 'decoF', afterDraw(chart) {
    const ctx = chart.ctx;
    const arc = chart.getDatasetMeta(0).data[0];
    ctx.save();
    ctx.strokeStyle = '#000'; ctx.lineWidth = 2.8;
    ctx.beginPath(); ctx.arc(arc.x, arc.y, arc.outerRadius, 0, Math.PI * 2); ctx.stroke();
    ctx.beginPath(); ctx.arc(arc.x, arc.y, arc.innerRadius, 0, Math.PI * 2); ctx.stroke();
    pathwayNames.forEach((n, i) => {
      const yc = 87.9 + i * 43.6;
      ctx.fillStyle = pathwayColors[i]; ctx.fillRect(436, yc - 11, 41, 22);
      ctx.strokeStyle = '#000'; ctx.lineWidth = 2.8; ctx.strokeRect(436, yc - 11, 41, 22);
      txt(ctx, n, 498, yc, {size: 30.5, color: '#111'});
    });
    ctx.restore();
  }}]
});
</script>
</body>
</html>
